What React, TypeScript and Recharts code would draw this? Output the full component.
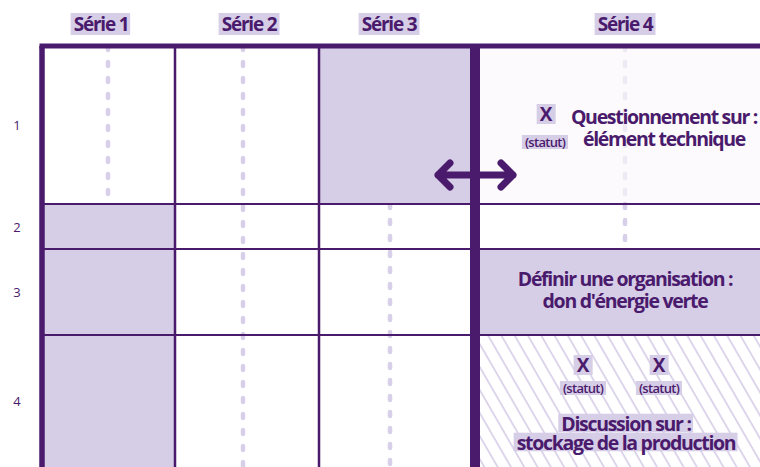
import React, { useLayoutEffect, useRef, useState } from 'react';
import { ComposedChart, XAxis, YAxis, ReferenceArea, ReferenceLine, Scatter } from 'recharts';

// ---- data ----
const seriesNames = ['Série 1', 'Série 2', 'Série 3', 'Série 4'];
const seriesLabelAt = [59, 207, 347, 583];
const colEdges = [0, 133, 277, 433, 718];
const rowNames = ['1', '2', '3', '4'];
const rowEdges = [0, 158, 203, 289, 421];
const dashAt = [66, 201, 348, 583];
const dashRows = [[1, 1], [1, 4], [2, 4], [2, 2]];
const faintDashRows = [[4, 1, 1]]; // [series, fromRow, toRow]
const filledCells = [[3, 1], [1, 2], [1, 3], [1, 4], [4, 3]]; // [series, row]
const hatchedCells = [[4, 4]];
const faintCells = [[4, 1]];
const arrowPoints = [{ x: 433, y: 129 }];
const notes = [
  { x: 504, y: 68, lines: ['X'], kind: 'mark', hl: true },
  { x: 503, y: 96, lines: ['(statut)'], kind: 'status', hl: true },
  { x: 622, y: 70, lines: ['Questionnement sur :', 'élément technique'], kind: 'title', hl: false },
  { x: 583, y: 232, lines: ['Définir une organisation :', "don d'énergie verte"], kind: 'title', hl: false },
  { x: 541, y: 319, lines: ['X'], kind: 'mark', hl: true },
  { x: 617, y: 319, lines: ['X'], kind: 'mark', hl: true },
  { x: 541, y: 342, lines: ['(statut)'], kind: 'status', hl: true },
  { x: 617, y: 342, lines: ['(statut)'], kind: 'status', hl: true },
  { x: 584, y: 377, lines: ['Discussion sur :', 'stockage de la production'], kind: 'titleTight', hl: true },
];

// ---- styles ----
const DARK = '#4a1b6c';
const LAV = '#d6cde7';
const DASH = '#d8cfe8';
const FAINT = '#fcfafd';
const FAINT_DASH = '#eee9f4';
const HATCH = '#d6cce7';
const FONT = '"Open Sans", sans-serif';

const styles: Record<string, any> = {
  title: { size: 19.5, weight: 700, spacing: -1.3, padY: 4.2, gap: 22 },
  titleTight: { size: 19.5, weight: 700, spacing: -1.3, padY: 4.2, gap: 19 },
  mark: { size: 19, weight: 700, spacing: 0, padY: 3, gap: 20 },
  status: { size: 13, weight: 600, spacing: -0.7, padY: 2, gap: 14 },
  series: { size: 19, weight: 700, spacing: -1.2, padY: 2, gap: 20 },
};

function HLText({ x, y, lines, kind, hl }: any) {
  const refs = useRef<(SVGTSpanElement | null)[]>([]);
  const [boxes, setBoxes] = useState<any[]>([]);
  const st = styles[kind];
  const key = lines.join('|');
  useLayoutEffect(() => {
    const bs = refs.current.slice(0, lines.length).map((el) => {
      if (!el) return null;
      const b = el.getBBox();
      return { x: b.x, y: b.y, w: b.width, h: b.height };
    });
    setBoxes(bs);
  }, [x, y, key, kind]);
  return (
    <g>
      {hl &&
        boxes.map((box, i) =>
          box ? (
            <rect key={i} x={box.x - 3} y={box.y + st.padY} width={box.w + 6 + st.spacing} height={box.h - 2 * st.padY} fill={LAV} />
          ) : null
        )}
      <text
        textAnchor="middle"
        dominantBaseline="central"
        fill={DARK}
        fontFamily={FONT}
        fontSize={st.size}
        fontWeight={st.weight}
        letterSpacing={st.spacing}
      >
        {lines.map((ln: string, i: number) => (
          <tspan key={i} ref={(el) => { refs.current[i] = el; }} x={x} y={y + i * st.gap} dominantBaseline="central">
            {ln}
          </tspan>
        ))}
      </text>
    </g>
  );
}

const SeriesTick = (props: any) => {
  const idx = seriesLabelAt.indexOf(props.payload.value);
  return <HLText x={props.x} y={props.y - 14} lines={[seriesNames[idx]]} kind="series" hl />;
};

const rowCenters = rowNames.map((_, i) => (rowEdges[i] + rowEdges[i + 1]) / 2);

const RowTick = (props: any) => {
  const idx = rowCenters.indexOf(props.payload.value);
  return (
    <text x={props.x - 17} y={props.y} textAnchor="middle" dominantBaseline="central" fill={DARK} fontFamily={FONT} fontSize={13}>
      {rowNames[idx]}
    </text>
  );
};

const NoteShape = (props: any) => {
  const p = props.payload;
  return <HLText x={props.cx} y={props.cy} lines={p.lines} kind={p.kind} hl={p.hl} />;
};

const ArrowShape = (props: any) => {
  const { cx, cy } = props;
  const d = `M${cx - 37},${cy} H${cx + 38} M${cx - 25},${cy - 12} L${cx - 37},${cy} L${cx - 25},${cy + 12} M${cx + 26},${cy - 12} L${cx + 38},${cy} L${cx + 26},${cy + 12}`;
  return <path d={d} fill="none" stroke={DARK} strokeWidth={7} strokeLinecap="round" strokeLinejoin="round" />;
};

export default function App() {
  return (
    <div style={{ position: 'absolute', left: 0, top: 0, width: 760, height: 467, overflow: 'hidden', background: '#fff' }}>
      <ComposedChart width={760} height={467} margin={{ top: 0, right: 0, bottom: 0, left: 0 }}>
        <defs>
          <pattern id="hatch" patternUnits="userSpaceOnUse" width={11.5} height={11.5} patternTransform="rotate(-30)">
            <line x1={2} y1={0} x2={2} y2={11.5} stroke={HATCH} strokeWidth={1.6} />
          </pattern>
        </defs>
        <XAxis
          xAxisId={0}
          type="number"
          dataKey="x"
          orientation="top"
          height={46}
          domain={[0, 718]}
          allowDataOverflow
          ticks={seriesLabelAt}
          tick={<SeriesTick />}
          axisLine={false}
          tickLine={false}
          interval={0}
        />
        <YAxis
          yAxisId={0}
          type="number"
          dataKey="y"
          width={42}
          domain={[0, 421]}
          allowDataOverflow
          reversed
          ticks={rowCenters}
          tick={<RowTick />}
          axisLine={false}
          tickLine={false}
          interval={0}
        />
        {faintCells.map(([c, r], i) => (
          <ReferenceArea key={'f' + i} x1={colEdges[c - 1]} x2={colEdges[c]} y1={rowEdges[r - 1]} y2={rowEdges[r]} fill={FAINT} fillOpacity={1} stroke="none" />
        ))}
        {filledCells.map(([c, r], i) => (
          <ReferenceArea key={'c' + i} x1={colEdges[c - 1]} x2={colEdges[c]} y1={rowEdges[r - 1]} y2={rowEdges[r]} fill={LAV} fillOpacity={1} stroke="none" />
        ))}
        {hatchedCells.map(([c, r], i) => (
          <ReferenceArea key={'h' + i} x1={colEdges[c - 1]} x2={colEdges[c]} y1={rowEdges[r - 1]} y2={rowEdges[r]} fill="url(#hatch)" fillOpacity={1} stroke="none" />
        ))}
        {dashRows.map(([a, b], i) => (
          <ReferenceLine
            key={'d' + i}
            segment={[{ x: dashAt[i], y: rowEdges[a - 1] }, { x: dashAt[i], y: rowEdges[b] }]}
            stroke={DASH}
            strokeWidth={4.5}
            strokeDasharray="4 12"
            strokeLinecap="round"
          />
        ))}
        {faintDashRows.map(([s, a, b], i) => (
          <ReferenceLine
            key={'fd' + i}
            segment={[{ x: dashAt[s - 1], y: rowEdges[a - 1] }, { x: dashAt[s - 1], y: rowEdges[b] }]}
            stroke={FAINT_DASH}
            strokeWidth={4.5}
            strokeDasharray="4 12"
            strokeLinecap="round"
          />
        ))}
        {rowEdges.slice(1, 4).map((y, i) => (
          <ReferenceLine key={'r' + i} y={y} stroke={DARK} strokeWidth={2} />
        ))}
        {colEdges.slice(1, 3).map((x, i) => (
          <ReferenceLine key={'cl' + i} x={x} stroke={DARK} strokeWidth={2.5} />
        ))}
        <ReferenceLine x={colEdges[3]} stroke={DARK} strokeWidth={10} />
        <ReferenceLine x={colEdges[0]} stroke={DARK} strokeWidth={5.5} />
        <ReferenceLine y={rowEdges[0]} stroke={DARK} strokeWidth={5} strokeLinecap="square" />
        <Scatter data={arrowPoints} shape={<ArrowShape />} isAnimationActive={false} />
        <Scatter data={notes} shape={<NoteShape />} isAnimationActive={false} />
      </ComposedChart>
    </div>
  );
}
